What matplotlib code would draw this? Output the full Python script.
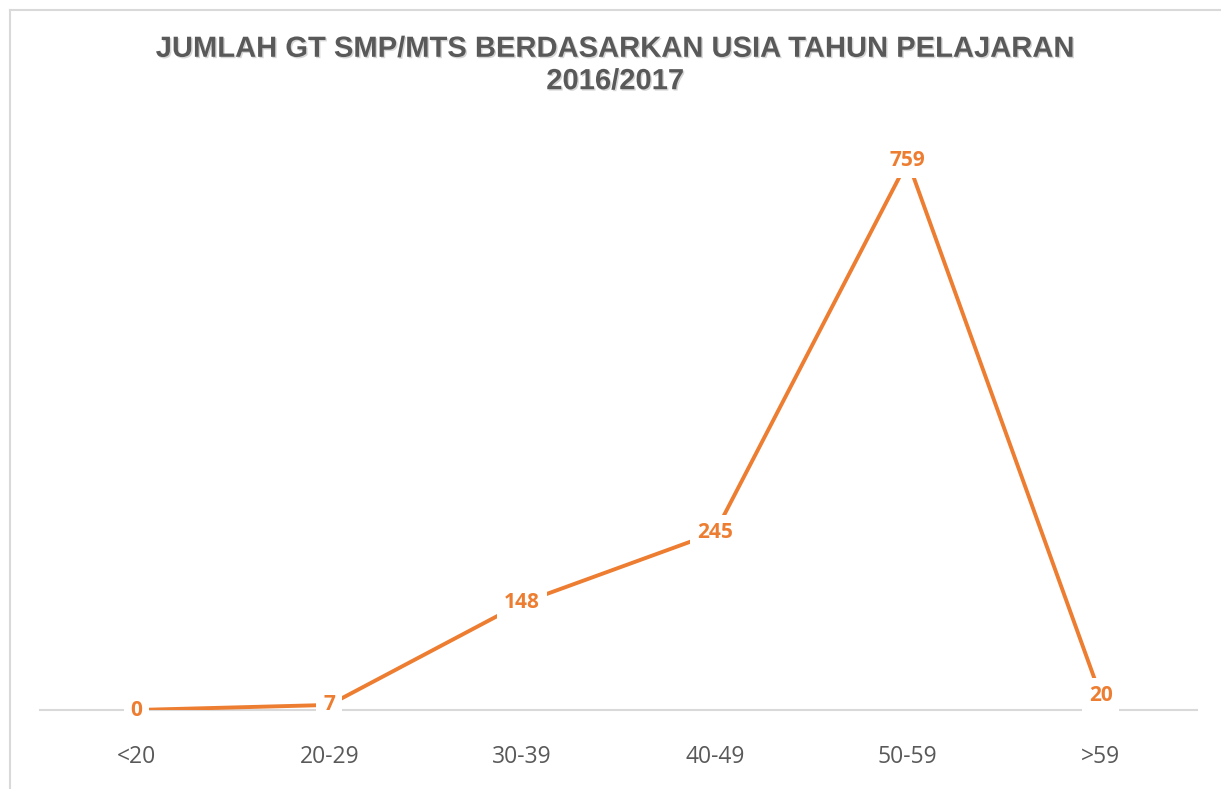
import matplotlib
matplotlib.use('Agg')
import matplotlib.pyplot as plt
import matplotlib.patheffects as pe
from matplotlib.lines import Line2D

categories = ['<20', '20-29', '30-39', '40-49', '50-59', '>59']
values = [0, 7, 148, 245, 759, 20]

orange = '#ED7D31'
gray = '#595959'

W, H = 1221, 789
fig = plt.figure(figsize=(W/100, H/100), dpi=100)

# chart frame (only top and left edges show in the reference)
fig.add_artist(Line2D([10/W, 10/W], [0, 1 - 10/H], color='#d9d9d9', lw=1.5))
fig.add_artist(Line2D([10/W, 1], [1 - 10/H, 1 - 10/H], color='#d9d9d9', lw=1.5))

ax = fig.add_axes([40/W, 1 - 710/H, 1157/W, (710 - 131.3)/H])
x = list(range(len(categories)))
ax.plot(x, values, color=orange, lw=2.8, solid_capstyle='butt', zorder=3)
ax.set_xlim(-0.5, len(categories) - 0.5)
ax.set_ylim(0, 800)
ax.set_yticks([])
for s in ['top', 'right', 'left']:
    ax.spines[s].set_visible(False)
ax.spines['bottom'].set_color('#d9d9d9')
ax.spines['bottom'].set_linewidth(1.5)
ax.set_xticks(x)
ax.set_xticklabels(categories, fontsize=16.5, color=gray, family='Open Sans')
ax.tick_params(axis='x', length=0, pad=25)

for xi, v in zip(x, values):
    ax.text(xi, v, str(v), ha='center', va='center', fontsize=15, fontweight='bold',
            color=orange, family='Open Sans', zorder=5,
            bbox=dict(facecolor='white', edgecolor='none', pad=5))

title = fig.text(615/W, 1 - 65/H, 'JUMLAH GT SMP/MTS BERDASARKAN USIA TAHUN PELAJARAN\n2016/2017',
                 ha='center', va='center', fontsize=21, fontweight='bold', color=gray,
                 family='Liberation Sans', linespacing=1.2)
title.set_path_effects([pe.SimplePatchShadow(offset=(1, -1), shadow_rgbFace='#bbbbbb', alpha=0.6),
                        pe.Normal()])

fig.savefig('out.png', dpi=100)
